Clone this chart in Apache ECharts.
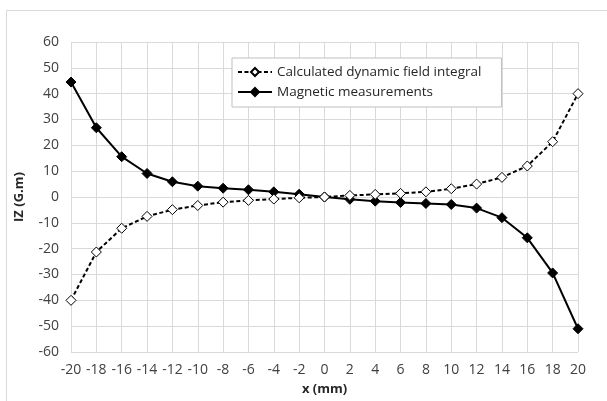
<!DOCTYPE html>
<html>
<head>
<meta charset="utf-8">
<script src="https://cdn.jsdelivr.net/npm/echarts@6/dist/echarts.min.js"></script>
<style>
  html, body { margin: 0; padding: 0; background: #fff; }
  #chart { width: 607px; height: 401px; }
</style>
</head>
<body>
<div id="chart"></div>
<script>
// positions x (mm)
const xPos = [-20, -18, -16, -14, -12, -10, -8, -6, -4, -2, 0, 2, 4, 6, 8, 10, 12, 14, 16, 18, 20]
// calculated dynamic field integral (G.m)
const calcIntegral = [-40, -21.3, -12.1, -7.5, -4.9, -3.3, -2.0, -1.3, -0.8, -0.3, 0, 0.6, 1.0, 1.4, 2.0, 3.2, 5.0, 7.6, 12.0, 21.4, 40]
// magnetic measurements (G.m)
const measured = [44.5, 26.8, 15.6, 9.1, 5.9, 4.2, 3.4, 2.8, 2.0, 1.1, 0, -0.9, -1.6, -2.1, -2.5, -2.9, -4.3, -8.0, -15.8, -29.4, -51]

const seriesNames = ['Calculated dynamic field integral', 'Magnetic measurements']

const chart = echarts.init(document.getElementById('chart'))
const font = 'Open Sans, Liberation Sans, sans-serif'

const option = {
  animation: false,
  textStyle: { fontFamily: font },
  graphic: [
    {
      type: 'rect',
      shape: { x: 6.5, y: 10.5, width: 640, height: 420 },
      style: { fill: 'none', stroke: '#d9d9d9', lineWidth: 1 }
    }
  ],
  grid: { left: 71, right: 29, top: 42, bottom: 48 },
  legend: {
    orient: 'vertical',
    left: 232,
    top: 58,
    padding: [7, 20, 8, 5],
    itemGap: 6,
    itemWidth: 34,
    itemHeight: 10,
    backgroundColor: '#fff',
    borderColor: '#bfbfbf',
    borderWidth: 1,
    textStyle: { fontSize: 13.5, color: '#262626', fontFamily: font },
    data: seriesNames
  },
  xAxis: {
    type: 'value',
    min: -20,
    max: 20,
    interval: 2,
    name: 'x (mm)',
    nameLocation: 'middle',
    nameGap: 31,
    nameTextStyle: { fontSize: 13, fontWeight: 'bold', color: '#262626' },
    axisLine: { show: false },
    axisTick: { show: false },
    axisLabel: { fontSize: 14, color: '#404040', margin: 11 },
    splitLine: { lineStyle: { color: '#d9d9d9', width: 1 } }
  },
  yAxis: {
    type: 'value',
    min: -60,
    max: 60,
    interval: 10,
    name: 'IZ (G.m)',
    nameLocation: 'middle',
    nameGap: 45,
    nameTextStyle: { fontSize: 13, fontWeight: 'bold', color: '#262626' },
    axisLine: { show: false },
    axisTick: { show: false },
    axisLabel: { fontSize: 14, color: '#404040', margin: 12 },
    splitLine: { lineStyle: { color: '#d9d9d9', width: 1 } }
  },
  series: [
    {
      name: seriesNames[0],
      type: 'line',
      data: xPos.map((x, i) => [x, calcIntegral[i]]),
      symbol: 'diamond',
      symbolSize: 10,
      lineStyle: { color: '#000', width: 2, type: [4, 2.5] },
      itemStyle: { color: '#fff', borderColor: '#000', borderWidth: 1 },
      z: 3
    },
    {
      name: seriesNames[1],
      type: 'line',
      data: xPos.map((x, i) => [x, measured[i]]),
      symbol: 'diamond',
      symbolSize: 10,
      lineStyle: { color: '#000', width: 2 },
      itemStyle: { color: '#000', borderColor: '#000', borderWidth: 1 },
      z: 2
    }
  ]
}
chart.setOption(option)
</script>
</body>
</html>
